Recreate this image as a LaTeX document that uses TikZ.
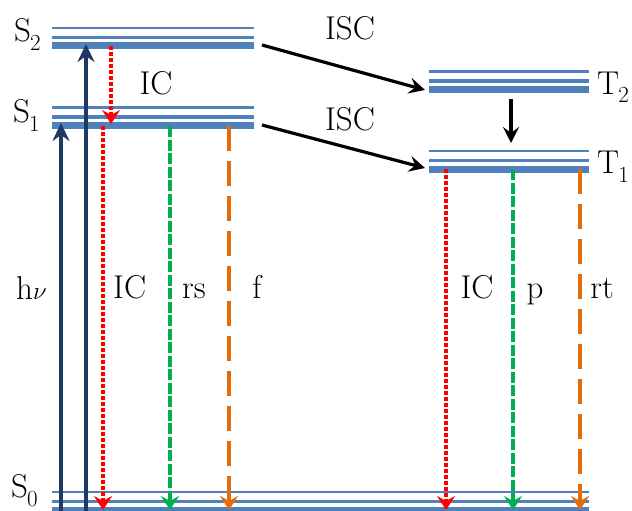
\documentclass[tikz,border=0pt]{standalone}
\usetikzlibrary{arrows.meta}
\definecolor{lvlblue}{HTML}{4F81BD}
\definecolor{navy}{HTML}{1F3864}
\definecolor{icred}{HTML}{FF0000}
\definecolor{rsgreen}{HTML}{00B050}
\definecolor{forange}{HTML}{E46C0A}
\newcommand\lvlsub[2]{#1\kern-1pt\raisebox{-9pt}{\fontsize{23}{23}\selectfont #2}}
\tikzset{
  thinlvl/.style={draw=lvlblue, line width=2.2pt},
  medlvl/.style={draw=lvlblue, line width=3.8pt},
  thicklvl/.style={draw=lvlblue, line width=7pt},
  lbl/.style={font=\fontsize{33}{40}\selectfont, inner sep=0pt},
  excite/.style={draw=navy, line width=3.6pt, -{Stealth[length=18pt,width=17pt,inset=6pt]}},
  blackarr/.style={draw=black, line width=3.2pt, -{Stealth[length=16pt,width=16pt,inset=6pt]}},
  icarr/.style={draw=icred, line width=4pt, dash pattern=on 4pt off 2pt, -{Stealth[length=14pt,width=18pt,inset=5pt]}},
  rsarr/.style={draw=rsgreen, line width=4pt, dash pattern=on 11pt off 2.5pt, -{Stealth[length=14pt,width=18pt,inset=5pt]}},
  farr/.style={draw=forange, line width=4pt, dash pattern=on 25pt off 10pt, -{Stealth[length=14pt,width=18pt,inset=5pt]}}
}
\begin{document}
\begin{tikzpicture}[x=1pt,y=-1pt]
\useasboundingbox (0,0) rectangle (632,511);
% energy levels
\foreach \ya/\xa/\xb in {46/52/254, 125.5/52/254, 89.5/429/589, 169/429/589, 510/52/589}{
  \draw[thinlvl] (\xa,\ya-18) -- (\xb,\ya-18);
  \draw[medlvl] (\xa,\ya-8.5) -- (\xb,\ya-8.5);
  \draw[thicklvl] (\xa,\ya) -- (\xb,\ya);
}
% level labels
\node[lbl, anchor=base west] (s2) at (14,42) {\lvlsub{S}{2}};
\node[lbl, anchor=base west] (s1) at (13,122) {\lvlsub{S}{1}};
\node[lbl, anchor=base west] (s0) at (11,497) {\lvlsub{S}{0}};
\node[lbl, anchor=base west] (t2) at (597,94) {\lvlsub{T}{2}};
\node[lbl, anchor=base west] (t1) at (597,173) {\lvlsub{T}{1}};
% coordinates
\coordinate (hA0) at (61,513);  \coordinate (hA1) at (61,123);
\coordinate (hB0) at (86,513);  \coordinate (hB1) at (86,44);
\coordinate (ic0) at (111,46);  \coordinate (ic1) at (111,124);
\coordinate (isA0) at (262,45); \coordinate (isA1) at (425,90);
\coordinate (isB0) at (262,125); \coordinate (isB1) at (425,168);
\coordinate (tt0) at (511,99);  \coordinate (tt1) at (511,143);
\coordinate (r1a) at (103,126); \coordinate (r1b) at (103,510);
\coordinate (g1a) at (170,126); \coordinate (g1b) at (170,510);
\coordinate (o1a) at (229,126); \coordinate (o1b) at (229,510);
\coordinate (r2a) at (446,169); \coordinate (r2b) at (446,510);
\coordinate (g2a) at (513,169); \coordinate (g2b) at (513,510);
\coordinate (o2a) at (580,169); \coordinate (o2b) at (580,510);
% arrows
\draw[excite] (hA0) -- (hA1);
\draw[excite] (hB0) -- (hB1);
\draw[icarr] (ic0) -- (ic1);
\draw[blackarr] (isA0) -- (isA1);
\draw[blackarr] (isB0) -- (isB1);
\draw[blackarr] (tt0) -- (tt1);
\draw[icarr] (r1a) -- (r1b);
\draw[rsarr] (g1a) -- (g1b);
\draw[farr] (o1a) -- (o1b);
\draw[icarr] (r2a) -- (r2b);
\draw[rsarr] (g2a) -- (g2b);
\draw[farr] (o2a) -- (o2b);
% process labels
\node[lbl, anchor=base] (iscA) at (350,40) {ISC};
\node[lbl, anchor=base] (iscB) at (350,130) {ISC};
\node[lbl, anchor=base] (icTop) at (156,94) {IC};
\node[lbl, anchor=base west] (hnu) at (16,299) {h$\nu$};
\node[lbl, anchor=base west] (icS) at (113,298) {IC};
\node[lbl, anchor=base] (rs) at (194,298) {rs};
\node[lbl, anchor=base] (f) at (257,298) {f};
\node[lbl, anchor=base] (icT) at (477,298) {IC};
\node[lbl, anchor=base] (p) at (535,298) {p};
\node[lbl, anchor=base] (rt) at (602,298) {rt};
\end{tikzpicture}
\end{document}
